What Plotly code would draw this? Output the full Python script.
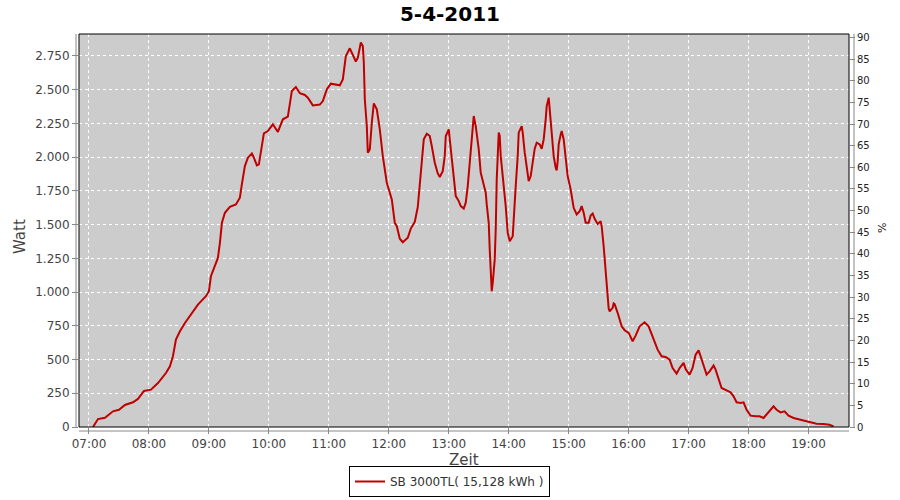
import plotly.graph_objects as go

DATE = "2011-04-05"
times = ["07:04","07:09","07:16","07:24","07:30","07:36","07:44","07:49","07:55","08:02",
         "08:09","08:17","08:21","08:24","08:27","08:31","08:36","08:42","08:49","08:57",
         "09:00","09:02","09:07","09:09","09:11","09:13","09:16","09:21","09:27","09:31",
         "09:33","09:36","09:39","09:43","09:45","09:48","09:50","09:53","09:55","09:59",
         "10:04","10:09","10:14","10:19","10:21","10:23","10:27","10:31","10:36","10:39",
         "10:44","10:51","10:54","10:58","11:02","11:08","11:11","11:14","11:17","11:21",
         "11:23","11:27","11:29","11:32","11:34","11:35","11:36","11:38","11:39","11:41",
         "11:43","11:45","11:48","11:51","11:54","11:58","12:03","12:06","12:08","12:11",
         "12:14","12:19","12:22","12:26","12:29","12:31","12:33","12:35","12:38","12:41",
         "12:43","12:46","12:49","12:51","12:54","12:56","12:57","13:00","13:01","13:03",
         "13:05","13:07","13:10","13:12","13:15","13:17","13:19","13:21","13:23","13:24",
         "13:25","13:27","13:30","13:32","13:35","13:37","13:38","13:40","13:41","13:42",
         "13:43","13:44","13:46","13:47","13:48","13:50","13:51","13:52","13:55","13:57",
         "13:59","14:01","14:04","14:05","14:07","14:09","14:10","14:13","14:14","14:16",
         "14:18","14:20","14:22","14:24","14:26","14:28","14:31","14:33","14:35","14:37",
         "14:38","14:40","14:41","14:43","14:45","14:47","14:48","14:49","14:50","14:52",
         "14:53","14:55","14:57","14:59","15:02","15:04","15:05","15:08","15:11","15:13",
         "15:15","15:17","15:20","15:22","15:24","15:26","15:29","15:32","15:33","15:35",
         "15:37","15:38","15:40","15:41","15:44","15:45","15:46","15:49","15:53","15:56",
         "16:00","16:04","16:07","16:11","16:16","16:20","16:25","16:29","16:33","16:37",
         "16:41","16:44","16:48","16:51","16:55","16:57","17:01","17:04","17:07","17:10",
         "17:12","17:15","17:18","17:21","17:25","17:27","17:30","17:33","17:38","17:42",
         "17:45","17:48","17:52","17:55","17:58","18:02","18:07","18:11","18:15","18:18",
         "18:22","18:25","18:28","18:32","18:36","18:40","18:45","18:52","18:58","19:03",
         "19:08","19:15","19:21","19:25"]
watt = [0,59,69,116,128,163,183,208,267,277,
        326,400,450,524,648,709,771,833,907,969,
        1006,1117,1204,1253,1365,1513,1587,1632,1649,1699,
        1800,1933,1995,2027,1995,1938,1946,2107,2176,2193,
        2243,2186,2280,2300,2415,2490,2519,2473,2460,2440,
        2383,2389,2415,2502,2544,2539,2532,2576,2749,2806,
        2774,2708,2737,2849,2823,2700,2428,2230,2033,2057,
        2255,2398,2354,2205,2007,1810,1686,1513,1488,1395,
        1369,1402,1470,1520,1630,1785,1995,2131,2173,2156,
        2082,1958,1879,1852,1896,2007,2156,2205,2131,1983,
        1834,1711,1674,1637,1619,1662,1785,1958,2181,2280,
        2304,2230,2057,1884,1785,1736,1649,1513,1315,1117,
        1006,1068,1241,1464,1834,2181,2156,2007,1810,1637,
        1439,1377,1414,1562,1785,2007,2181,2230,2181,2033,
        1909,1822,1859,1970,2062,2107,2094,2062,2131,2280,
        2378,2440,2354,2181,2007,1921,1901,1970,2094,2168,
        2193,2131,2007,1859,1760,1686,1624,1575,1599,1637,
        1587,1513,1513,1567,1582,1543,1505,1525,1488,1340,
        1167,1018,880,857,883,915,910,846,746,717,
        697,635,677,746,776,746,648,573,524,519,
        499,437,395,437,475,430,388,437,536,568,
        524,450,388,412,455,425,351,289,272,257,
        227,183,178,183,128,84,79,79,67,91,
        128,153,128,108,116,84,67,54,42,34,
        24,22,17,4]

title_text = "5-4-2011"
series_name = "SB 3000TL( 15,128 kWh )"
y_title = "Watt"
x_title = "Zeit"
y2_title = "%"

x_vals = [f"{DATE} {t}" for t in times]

PLOT_L, PLOT_R, PLOT_T, PLOT_B = 79, 849, 34, 427
W, H = 900, 500
pw, ph = PLOT_R - PLOT_L, PLOT_B - PLOT_T

fig = go.Figure()
fig.add_trace(go.Scatter(x=x_vals, y=watt, mode="lines", name=series_name,
                         line=dict(color="#C00000", width=2)))
fig.add_trace(go.Scatter(x=[x_vals[0]], y=[0], yaxis="y2", mode="lines",
                         showlegend=False, hoverinfo="skip", opacity=0))

font = "DejaVu Sans, sans-serif"
fig.update_layout(
    width=W, height=H,
    margin=dict(l=PLOT_L, r=W - PLOT_R, t=PLOT_T, b=H - PLOT_B, autoexpand=False),
    paper_bgcolor="white", plot_bgcolor="#CCCCCC",
    separators=",.",
    font=dict(family=font, size=12, color="#444444"),
    title=dict(text="<b>" + title_text + "</b>", x=0.5, xanchor="center",
               y=1 - 14 / H, yanchor="middle",
               font=dict(family=font, size=20, color="#000000")),
    xaxis=dict(type="date", range=[f"{DATE} 06:50", f"{DATE} 19:40:30"],
               tick0=f"{DATE} 07:00", dtick=3600000, tickformat="%H:%M",
               showgrid=True, gridcolor="white", griddash="dot", gridwidth=1,
               ticks="outside", ticklen=6, tickcolor="#888888",
               tickfont=dict(size=12, color="#444444"),
               showline=False, zeroline=False, automargin=False),
    yaxis=dict(range=[0, 2912], dtick=250, tick0=0, tickformat=",d",
               showgrid=True, gridcolor="white", griddash="dot", gridwidth=1,
               ticks="outside", ticklen=6, tickcolor="#888888",
               tickfont=dict(size=12, color="#444444"),
               showline=False, zeroline=False, automargin=False),
    yaxis2=dict(overlaying="y", side="right", range=[0, 90.8], dtick=5, tick0=0,
                showgrid=False, zeroline=False, showline=False,
                ticks="outside", ticklen=5, tickcolor="#888888",
                tickfont=dict(size=10, color="#222222"), automargin=False),
    legend=dict(orientation="h", x=(449.5 - PLOT_L) / pw, xanchor="center",
                y=(PLOT_B - 497) / ph, yanchor="bottom",
                bordercolor="black", borderwidth=1, bgcolor="white",
                font=dict(size=12, color="#333333"), itemwidth=30),
    showlegend=True,
)

# plot border and offset axis lines
fig.add_shape(type="rect", xref="paper", yref="paper", x0=0, x1=1, y0=0, y1=1,
              line=dict(color="black", width=1), layer="above")
fig.add_shape(type="line", xref="paper", yref="paper", x0=-3 / pw, x1=-3 / pw, y0=0, y1=1,
              line=dict(color="#888888", width=1))
fig.add_shape(type="line", xref="paper", yref="paper", x0=0, x1=1, y0=-4 / ph, y1=-4 / ph,
              line=dict(color="#888888", width=1))
fig.add_shape(type="line", xref="paper", yref="paper", x0=1 + 5 / pw, x1=1 + 5 / pw, y0=0, y1=1,
              line=dict(color="#888888", width=1))

# axis titles
fig.add_annotation(text=y_title, xref="paper", yref="paper",
                   x=(20 - PLOT_L) / pw, y=(PLOT_B - 237) / ph, showarrow=False,
                   textangle=-90, xanchor="center", yanchor="middle",
                   font=dict(family=font, size=15, color="#444444"))
fig.add_annotation(text=x_title, xref="paper", yref="paper",
                   x=(463.5 - PLOT_L) / pw, y=(PLOT_B - 460) / ph, showarrow=False,
                   xanchor="center", yanchor="middle",
                   font=dict(family=font, size=15, color="#444444"))
fig.add_annotation(text=y2_title, xref="paper", yref="paper",
                   x=(882 - PLOT_L) / pw, y=(PLOT_B - 228) / ph, showarrow=False,
                   textangle=-90, xanchor="center", yanchor="middle",
                   font=dict(family=font, size=11, color="#222222"))

fig.write_html("out.html", config={"displayModeBar": False},
               post_script="document.body.style.margin='0';document.body.style.padding='0';")
